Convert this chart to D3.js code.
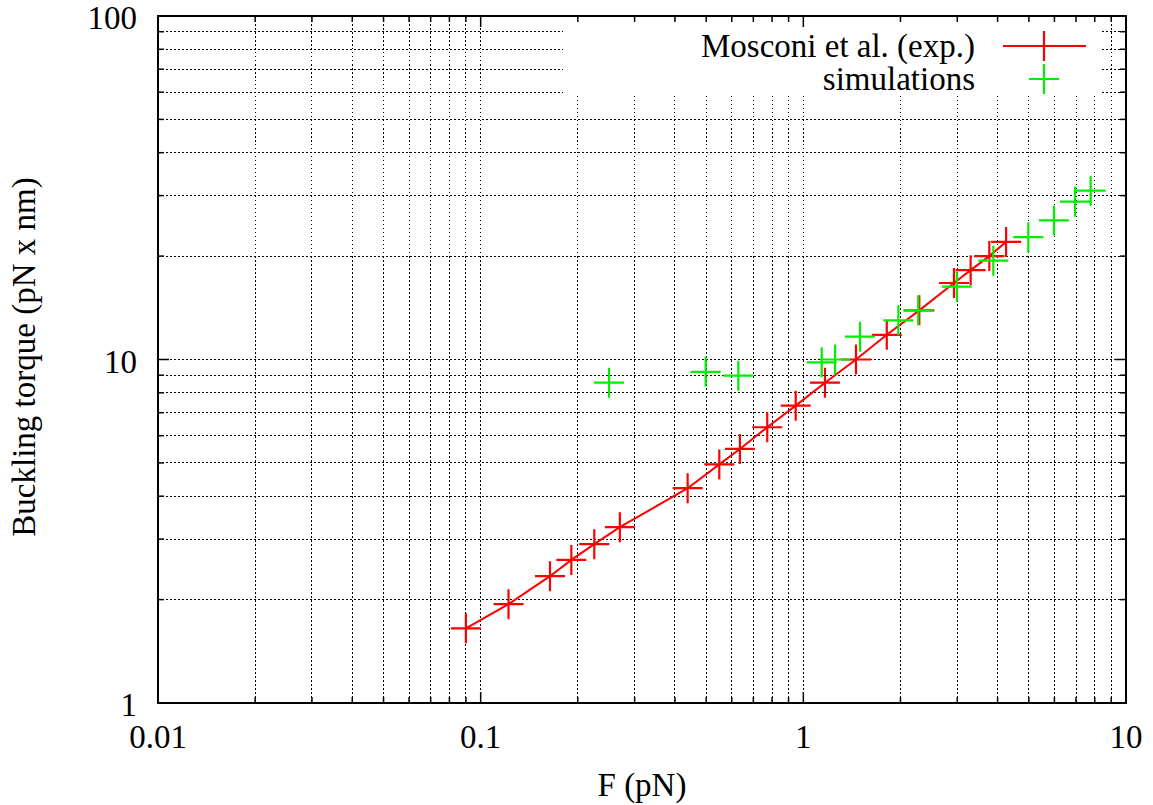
<!DOCTYPE html>
<html>
<head>
<meta charset="utf-8">
<script src="https://cdn.jsdelivr.net/npm/d3@7"></script>
<style>
  body { margin: 0; background: #fff; }
  svg { display: block; font-family: "Liberation Serif", "Times New Roman", serif; }
</style>
</head>
<body>
<div id="chart"></div>
<script>
// Mosconi et al. experimental points (F in pN, torque in pN x nm)
const expForce = [0.090, 0.122, 0.164, 0.191, 0.225, 0.270, 0.438, 0.549, 0.636, 0.773, 0.947,
  1.167, 1.456, 1.814, 2.288, 2.93, 3.30, 3.77, 4.25];
const expTorque = [1.65, 1.94, 2.34, 2.61, 2.90, 3.25, 4.22, 4.95, 5.49, 6.35, 7.34,
  8.56, 10.0, 11.8, 13.9, 16.7, 18.2, 20.0, 22.0];

// simulation points
const simForce = [0.250, 0.498, 0.629, 1.14, 1.254, 1.498, 1.97, 2.27, 2.99, 3.88, 4.98, 5.98, 6.95, 7.77];
const simTorque = [8.56, 9.21, 8.97, 9.81, 10.0, 11.65, 13.0, 13.9, 16.3, 19.4, 22.7, 25.4, 28.8, 31.0];

const seriesNames = ["Mosconi et al. (exp.)", "simulations"];
const seriesColors = ["#ff0000", "#00ee00"];
const xTickLabels = ["0.01", "0.1", "1", "10"];
const yTickLabels = ["1", "10", "100"];

const width = 1153, height = 805;
const margin = { top: 16, right: 27, bottom: 102, left: 158 };
const plotW = width - margin.left - margin.right;
const plotH = height - margin.top - margin.bottom;
const fontSize = "33px";

const svg = d3.select("#chart").append("svg")
  .attr("width", width)
  .attr("height", height);

const g = svg.append("g").attr("transform", `translate(${margin.left},${margin.top})`);

const x = d3.scaleLog().domain([0.01, 10]).range([0, plotW]);
const y = d3.scaleLog().domain([1, 100]).range([plotH, 0]);

// major and minor tick values for each decade
function logTicks(lo, hi) {
  const major = [], minor = [];
  for (let e = Math.log10(lo); e <= Math.log10(hi); e++) {
    const base = Math.pow(10, e);
    major.push(base);
    if (base < hi) for (let k = 2; k <= 9; k++) minor.push(k * base);
  }
  return { major, minor };
}
const xt = logTicks(0.01, 10);
const yt = logTicks(1, 100);

// dotted grid on every tick
const grid = g.append("g")
  .attr("stroke", "#000")
  .attr("stroke-width", 1)
  .attr("stroke-dasharray", "1.5,2.5")
  .attr("shape-rendering", "crispEdges");
grid.selectAll(".gx")
  .data(xt.major.concat(xt.minor).filter(d => d > 0.01 && d < 10))
  .enter().append("line")
  .attr("x1", d => x(d)).attr("x2", d => x(d))
  .attr("y1", 0).attr("y2", plotH);
grid.selectAll(".gy")
  .data(yt.major.concat(yt.minor).filter(d => d > 1 && d < 100))
  .enter().append("line")
  .attr("y1", d => y(d)).attr("y2", d => y(d))
  .attr("x1", 0).attr("x2", plotW);

// opaque key box hides the grid behind the legend
g.append("rect")
  .attr("x", 405).attr("y", 1)
  .attr("width", 537).attr("height", 78)
  .attr("fill", "#fff");

// ticks on all four sides, pointing inwards
const ticks = g.append("g").attr("stroke", "#000").attr("stroke-width", 1.5);
function drawTicks(vals, len) {
  ticks.selectAll(null).data(vals.x).enter().append("line")
    .attr("x1", d => x(d)).attr("x2", d => x(d)).attr("y1", plotH).attr("y2", plotH - len);
  ticks.selectAll(null).data(vals.x).enter().append("line")
    .attr("x1", d => x(d)).attr("x2", d => x(d)).attr("y1", 0).attr("y2", len);
  ticks.selectAll(null).data(vals.y).enter().append("line")
    .attr("y1", d => y(d)).attr("y2", d => y(d)).attr("x1", 0).attr("x2", len);
  ticks.selectAll(null).data(vals.y).enter().append("line")
    .attr("y1", d => y(d)).attr("y2", d => y(d)).attr("x1", plotW).attr("x2", plotW - len);
}
drawTicks({ x: xt.major, y: yt.major }, 11);
drawTicks({ x: xt.minor, y: yt.minor }, 6);

// frame
g.append("rect")
  .attr("width", plotW).attr("height", plotH)
  .attr("fill", "none")
  .attr("stroke", "#000")
  .attr("stroke-width", 2);

// tick labels
g.selectAll(".xl")
  .data(xt.major)
  .enter().append("text")
  .attr("x", d => x(d))
  .attr("y", plotH + 45)
  .attr("text-anchor", "middle")
  .attr("font-size", fontSize)
  .text((d, i) => xTickLabels[i]);
g.selectAll(".yl")
  .data(yt.major)
  .enter().append("text")
  .attr("x", -21)
  .attr("y", d => y(d) + 13)
  .attr("text-anchor", "end")
  .attr("font-size", fontSize)
  .text((d, i) => yTickLabels[i]);

// axis titles
svg.append("text")
  .attr("x", 642)
  .attr("y", 796)
  .attr("text-anchor", "middle")
  .attr("font-size", fontSize)
  .text("F (pN)");
svg.append("text")
  .attr("transform", "translate(35,357) rotate(-90)")
  .attr("text-anchor", "middle")
  .attr("font-size", fontSize)
  .text("Buckling torque (pN x nm)");

// cross marker path
const cross = (cx, cy, r) => `M${cx - r},${cy}H${cx + r}M${cx},${cy - r}V${cy + r}`;

const expData = expForce.map((f, i) => ({ f, t: expTorque[i] }));
const simData = simForce.map((f, i) => ({ f, t: simTorque[i] }));

// experimental line
g.append("path")
  .datum(expData)
  .attr("fill", "none")
  .attr("stroke", seriesColors[0])
  .attr("stroke-width", 2)
  .attr("d", d3.line().x(d => x(d.f)).y(d => y(d.t)));

g.append("g").selectAll("path")
  .data(expData)
  .enter().append("path")
  .attr("d", d => cross(x(d.f), y(d.t), 15))
  .attr("stroke", seriesColors[0])
  .attr("stroke-width", 2.2)
  .attr("fill", "none");

g.append("g").selectAll("path")
  .data(simData)
  .enter().append("path")
  .attr("d", d => cross(x(d.f), y(d.t), 15))
  .attr("stroke", seriesColors[1])
  .attr("stroke-width", 2.2)
  .attr("fill", "none");

// legend
const legend = svg.append("g");
seriesNames.forEach((name, i) => {
  const ly = 46 + i * 33;
  legend.append("text")
    .attr("x", 975)
    .attr("y", ly + 11)
    .attr("text-anchor", "end")
    .attr("font-size", fontSize)
    .text(name);
  if (i === 0) {
    legend.append("line")
      .attr("x1", 1003).attr("x2", 1086)
      .attr("y1", ly).attr("y2", ly)
      .attr("stroke", seriesColors[i])
      .attr("stroke-width", 2);
  }
  legend.append("path")
    .attr("d", cross(1044, ly, 15))
    .attr("stroke", seriesColors[i])
    .attr("stroke-width", 2.2);
});
</script>
</body>
</html>
